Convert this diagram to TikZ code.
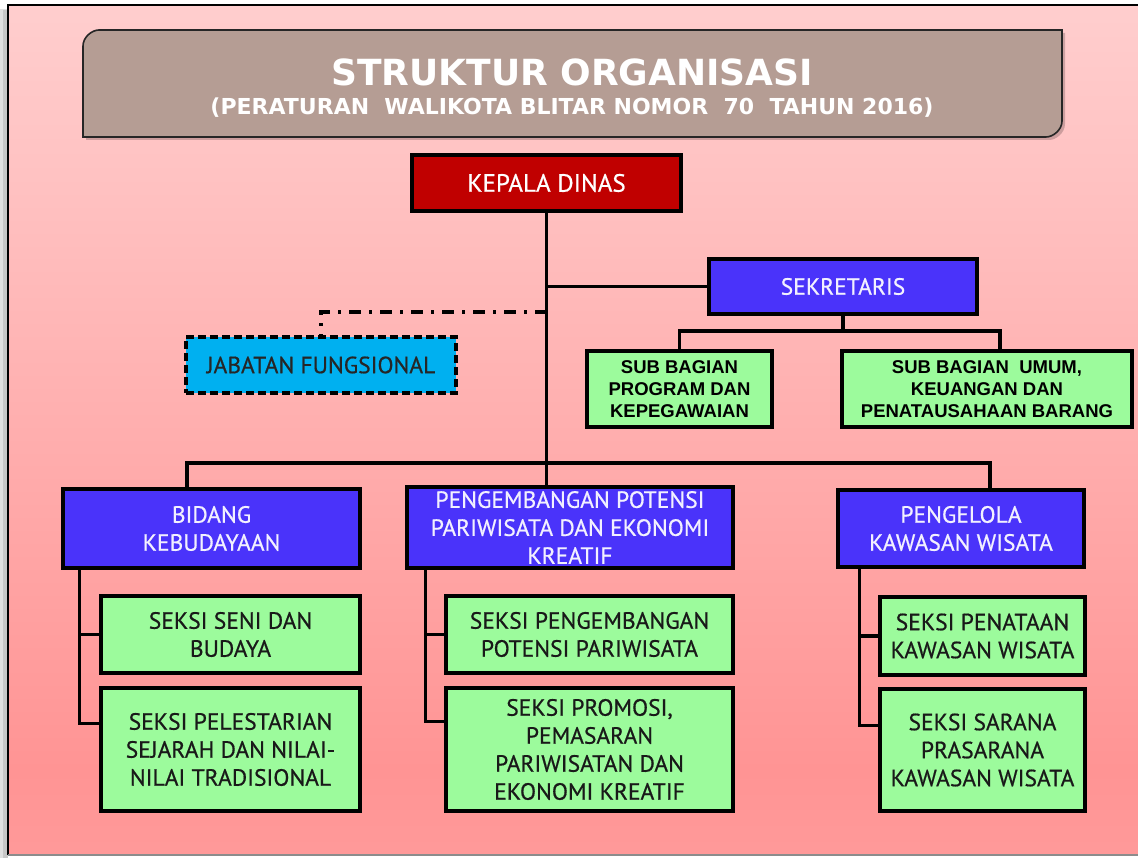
\documentclass[tikz,border=0pt]{standalone}
\usepackage{fontspec}
\setmainfont{PT Sans}[FakeBold=0.6]
\newfontfamily\titlefont{DejaVu Sans}
\newfontfamily\arialfont{Liberation Sans}
\usetikzlibrary{calc}
\definecolor{bgA}{HTML}{FFEBEB}
\definecolor{bgB}{HTML}{FFC2C2}
\definecolor{bgC}{HTML}{FF9494}
\definecolor{bgD}{HTML}{FFB4B4}
\definecolor{titlebg}{HTML}{B59D94}
\definecolor{kepalared}{HTML}{C00000}
\definecolor{bidangblue}{HTML}{4A33FA}
\definecolor{seksigreen}{HTML}{9CFB9C}
\definecolor{jabcyan}{HTML}{00B0F0}
\definecolor{paletext}{HTML}{F2F0FF}
\pgfdeclareverticalshading{bgshade}{100bp}{color(0bp)=(bgD); color(30bp)=(bgC); color(65bp)=(bgB); color(100bp)=(bgA)}
\begin{document}
\begin{tikzpicture}[x=1pt,y=-1pt,
  box/.style={draw=black, line width=3.3pt, inner sep=0pt, align=center,
    font=\fontsize{23.5}{28}\selectfont},
  redbox/.style={box, fill=kepalared, text=white, font=\fontsize{25}{28}\selectfont},
  bluebox/.style={box, fill=bidangblue, text=paletext},
  greenbox/.style={box, fill=seksigreen, text=black!90},
  subbox/.style={box, fill=seksigreen, text=black,
    font=\arialfont\bfseries\fontsize{18.5}{22}\selectfont},
  jabbox/.style={box, fill=jabcyan, text=black!85, dash pattern=on 8pt off 4pt},
  conn/.style={line width=3.3pt, line cap=rect},
  dashdot/.style={line width=3.3pt, dash pattern=on 12pt off 8pt on 3pt off 8pt},
  titletext/.style={text=white, font=\titlefont\bfseries\fontsize{36}{40}\selectfont},
  subtitletext/.style={text=white, font=\titlefont\bfseries\fontsize{22}{26}\selectfont}
]
\useasboundingbox (0,0) rectangle (1138,858);
% page shadow and background
\fill[black!12] (0,9) rectangle (8,858);
\fill[black!22] (3,10) rectangle (8,858);
\shade[shading=bgshade] (8,5) rectangle (1140,855);
\draw[line width=2pt] (1140,5) -- (8,5) -- (8,855);
\draw[line width=2pt, black!45] (8,855) -- (1140,855);
% title box
\fill[black, opacity=0.2, shift={(3,3)}] (83,137) -- (83,46) .. controls (83,37.16) and (91.84,30) .. (99,30) -- (1062,30) -- (1062,121) .. controls (1062,129.84) and (1053.16,137) .. (1046,137) -- cycle;
\draw[fill=titlebg, line width=1.6pt, draw=black!85] (83,137) -- (83,46) .. controls (83,37.16) and (91.84,30) .. (99,30) -- (1062,30) -- (1062,121) .. controls (1062,129.84) and (1053.16,137) .. (1046,137) -- cycle;
\node[titletext] (title) at (572,72) {STRUKTUR ORGANISASI};
\node[subtitletext] (subtitle) at (572,108) {(PERATURAN\ \ WALIKOTA BLITAR NOMOR\ \ 70\ \ TAHUN 2016)};
% nodes
\node[redbox, minimum width=269pt, minimum height=56pt] (kepala) at (546.5,183) {KEPALA DINAS};
\node[bluebox, minimum width=268pt, minimum height=55pt] (sekretaris) at (843,286.5) {SEKRETARIS};
\node[subbox, minimum width=185pt, minimum height=76pt] (subprog) at (679.5,389) {SUB BAGIAN\\PROGRAM DAN\\KEPEGAWAIAN};
\node[subbox, minimum width=290pt, minimum height=76pt] (subumum) at (987,389) {SUB BAGIAN\ \ UMUM,\\KEUANGAN DAN\\PENATAUSAHAAN BARANG};
\node[jabbox, minimum width=270pt, minimum height=56pt] (jabatan) at (321,365) {JABATAN FUNGSIONAL};
\node[bluebox, minimum width=297pt, minimum height=79pt] (bidang) at (211.5,528.5) {BIDANG\\KEBUDAYAAN};
\node[bluebox, minimum width=326pt, minimum height=81pt] (pengembangan) at (570,527.5) {PENGEMBANGAN POTENSI\\PARIWISATA DAN EKONOMI\\KREATIF};
\node[bluebox, minimum width=246pt, minimum height=77pt] (pengelola) at (961,528.5) {PENGELOLA\\KAWASAN WISATA};
\node[greenbox, minimum width=259pt, minimum height=77pt] (s11) at (230.5,634.5) {SEKSI SENI DAN\\BUDAYA};
\node[greenbox, minimum width=259pt, minimum height=123pt] (s12) at (230.5,749.5) {SEKSI PELESTARIAN\\SEJARAH DAN NILAI-\\NILAI TRADISIONAL};
\node[greenbox, minimum width=287pt, minimum height=77pt] (s21) at (589.5,634.5) {SEKSI PENGEMBANGAN\\POTENSI PARIWISATA};
\node[greenbox, minimum width=287pt, minimum height=123pt] (s22) at (589.5,749.5) {SEKSI PROMOSI,\\PEMASARAN\\PARIWISATAN DAN\\EKONOMI KREATIF};
\node[greenbox, minimum width=205pt, minimum height=78pt] (s31) at (982.5,636) {SEKSI PENATAAN\\KAWASAN WISATA};
\node[greenbox, minimum width=205pt, minimum height=122pt] (s32) at (982.5,750) {SEKSI SARANA\\PRASARANA\\KAWASAN WISATA};
% coordinates for connectors
\coordinate (sekbus) at (843,331);
\coordinate (umumtop) at ($(subumum.north)+(13,0)$);
\coordinate (jabtap) at (546.5,312);
\coordinate (bL) at (187,463);
\coordinate (bR) at (990,463);
\coordinate (cL) at ($(bidang.south west)+(18,0)$);
\coordinate (cM) at ($(pengembangan.south west)+(20,0)$);
\coordinate (cR) at ($(pengelola.south west)+(23,0)$);
\coordinate (s12in) at ($(s12.north west)+(0,37)$);
\coordinate (s22in) at ($(s22.north west)+(0,35)$);
\coordinate (s32in) at ($(s32.north west)+(0,38)$);
% connectors
\draw[conn] (kepala.south) -- (kepala.south |- pengembangan.north);
\draw[conn] (kepala.south |- sekretaris.west) -- (sekretaris.west);
\draw[conn] (sekretaris.south) -- (sekbus);
\draw[conn] (subprog.north) |- (sekbus) -| (umumtop);
\draw[dashdot] (jabtap) -| (jabatan.north);
\draw[conn] (bL |- bidang.north) -- (bL) -- (bR) -- (bR |- pengelola.north);
\draw[conn] (cL) |- (s12in);
\draw[conn] (cL |- s11.west) -- (s11.west);
\draw[conn] (cM) |- (s22in);
\draw[conn] (cM |- s21.west) -- (s21.west);
\draw[conn] (cR) |- (s32in);
\draw[conn] (cR |- s31.west) -- (s31.west);
\end{tikzpicture}
\end{document}
